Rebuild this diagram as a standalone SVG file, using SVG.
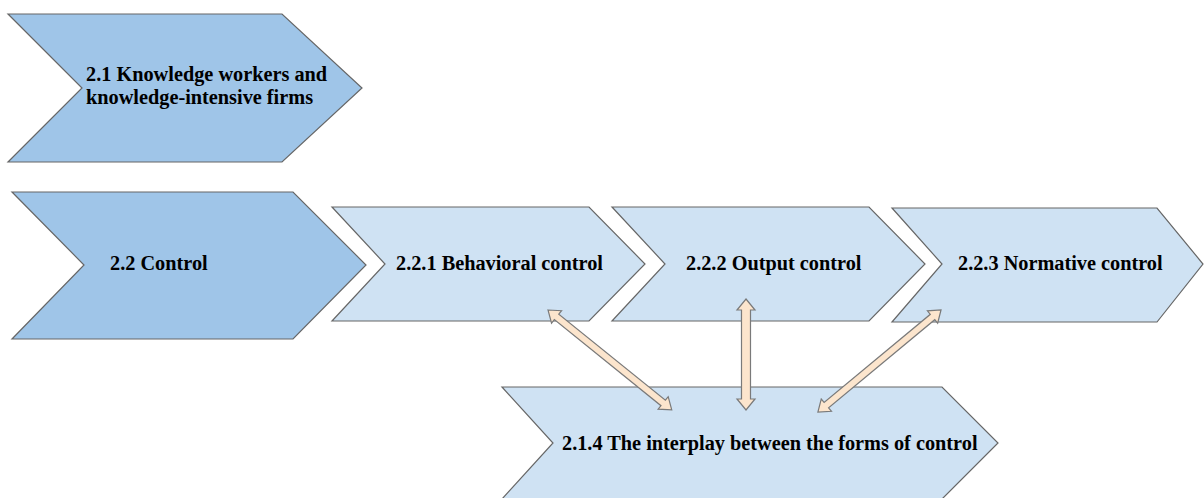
<svg xmlns="http://www.w3.org/2000/svg" width="1204" height="498" viewBox="0 0 1204 498">
<style>
.dark{fill:#9fc5e8;stroke:#666666;stroke-width:1.2}
.light{fill:#cfe2f3;stroke:#666666;stroke-width:1.2}
.lbl{font-family:"Liberation Serif","Times New Roman",serif;font-weight:bold;font-size:20.3px;fill:#000}
.arr{fill:#fce5cd;stroke:#7a7a7a;stroke-width:1.2;stroke-linejoin:miter}
</style>
<rect width="1204" height="498" fill="#ffffff"/>
<g id="n21">
<polygon class="dark" points="8,14 282,14 362,88 282,162 8,162 82,88"/>
<text class="lbl" x="86" y="81">2.1 Knowledge workers and</text>
<text class="lbl" x="86" y="104">knowledge-intensive firms</text>
</g>
<g id="n22">
<polygon class="dark" points="12,192 293,192 366,265 293,339 12,339 84,265"/>
<text class="lbl" x="110" y="270">2.2 Control</text>
</g>
<g id="n221">
<polygon class="light" points="332,207 589,207 645,264 589,321 332,321 385,264"/>
<text class="lbl" x="396" y="270">2.2.1 Behavioral control</text>
</g>
<g id="n222">
<polygon class="light" points="612,207 869,207 925,264 869,321 612,321 665,264"/>
<text class="lbl" x="686" y="270">2.2.2 Output control</text>
</g>
<g id="n223">
<polygon class="light" points="892,208 1157,208 1203,264 1157,322 892,322 942,264"/>
<text class="lbl" x="958" y="270">2.2.3 Normative control</text>
</g>
<g id="n214">
<polygon class="light" points="502,387 942,387 998,443 942,499 502,499 553,443"/>
<text class="lbl" x="562" y="450">2.1.4 The interplay between the forms of control</text>
</g>
<g id="connectors">
<polygon class="arr" transform="translate(548,310) rotate(38.9)" points="0,0 11,-8 11,-3.5 148,-3.5 148,-8 159,0 148,8 148,3.5 11,3.5 11,8"/>
<polygon class="arr" transform="translate(746,299) rotate(90)" points="0,0 11,-9 11,-4.5 100,-4.5 100,-9 111,0 100,9 100,4.5 11,4.5 11,9"/>
<polygon class="arr" transform="translate(941,310) rotate(140.3)" points="0,0 11,-8 11,-3.5 149,-3.5 149,-8 160,0 149,8 149,3.5 11,3.5 11,8"/>
</g>
</svg>
